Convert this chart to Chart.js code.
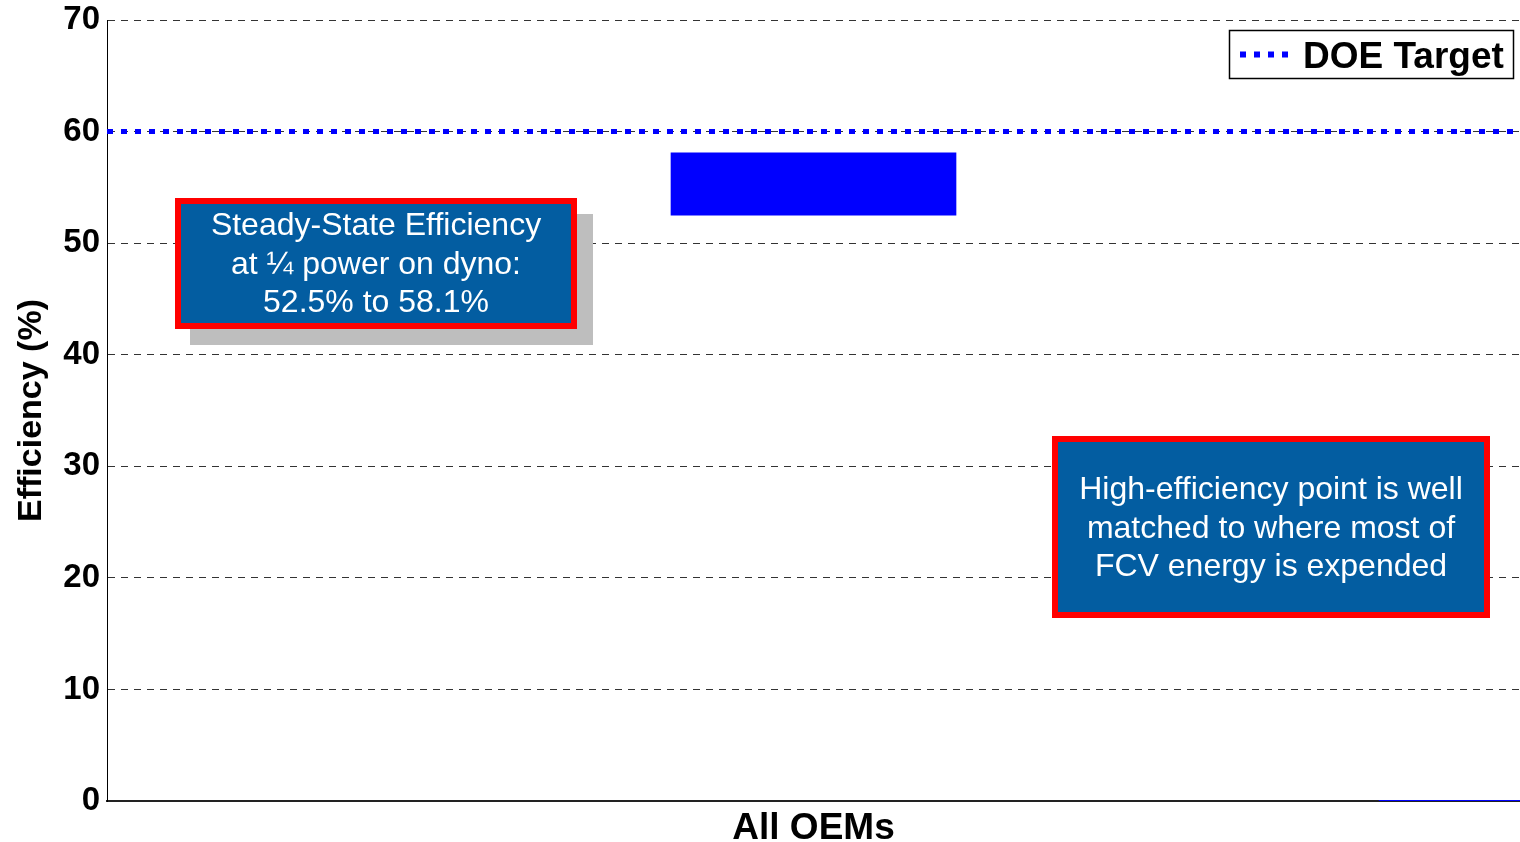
<!DOCTYPE html>
<html>
<head>
<meta charset="utf-8">
<title>Steady-State Efficiency</title>
<script src="https://cdn.jsdelivr.net/npm/chart.js@4/dist/chart.umd.min.js"></script>
<style>
  html, body { margin: 0; padding: 0; background: #ffffff; }
  #wrap { width: 1520px; height: 842px; position: relative; }
</style>
</head>
<body>
<div id="wrap"><canvas id="chart" width="1520" height="842"></canvas></div>
<script>
// ---- data ----
const categories = ['All OEMs'];
const categoryPos = [0.5];           // position of each group along the x axis (0..1)
const efficiencyRangeLow = [52.5];   // % at 1/4 power, lowest OEM
const efficiencyRangeHigh = [58.1];  // % at 1/4 power, highest OEM
const targetLabel = 'DOE Target';
const targetValue = [60, 60];        // % efficiency target
const targetSpan = [0, 1];
const baseValue = [0, 0];
const baseSpan = [0.9, 1];
const yTicks = [0, 10, 20, 30, 40, 50, 60, 70];
const yTitle = 'Efficiency (%)';
const noteLeft = ['Steady-State Efficiency', 'at \u00BC power on dyno:', '52.5% to 58.1%'];
const noteRight = ['High-efficiency point is well', 'matched to where most of', 'FCV energy is expended'];

const FONT = "'Liberation Sans', Arial, Helvetica, sans-serif";
const NOTE_BLUE = '#035DA1';
const NOTE_RED = '#FF0000';

// floating bars: y = [low, high]
const rangeData = categories.map((c, i) => ({ x: categoryPos[i], y: [efficiencyRangeLow[i], efficiencyRangeHigh[i]] }));
const targetData = targetSpan.map((x, i) => ({ x: x, y: targetValue[i] }));
const baseData = baseSpan.map((x, i) => ({ x: x, y: baseValue[i] }));

// boxed callouts and the framed legend, drawn over the plot
const overlayPlugin = {
  id: 'overlay',
  afterDatasetsDraw(chart) {
    const ctx = chart.ctx;
    const area = chart.chartArea;

    function note(lines, x0, y0, x1, y1, lineCenters, shadow) {
      ctx.save();
      if (shadow) {
        ctx.fillStyle = '#BEBEBE';
        ctx.fillRect(x0 + 15, y0 + 16, x1 - x0 + 1, y1 - y0);
      }
      ctx.fillStyle = NOTE_RED;
      ctx.fillRect(x0, y0, x1 - x0, y1 - y0);
      ctx.fillStyle = NOTE_BLUE;
      ctx.fillRect(x0 + 6, y0 + 6, x1 - x0 - 12, y1 - y0 - 12);
      ctx.fillStyle = '#FFFFFF';
      ctx.font = '32px ' + FONT;
      ctx.textAlign = 'center';
      ctx.textBaseline = 'middle';
      const cx = (x0 + x1) / 2;
      lines.forEach((t, i) => ctx.fillText(t, cx, lineCenters[i]));
      ctx.restore();
    }

    note(noteLeft, 175, 198, 577, 329, [226, 265, 303], true);
    note(noteRight, 1052, 436, 1490, 618, [490, 529, 567], false);

    // legend frame with the target line sample
    const ds = chart.data.datasets[1];
    const lx1 = area.right - 6, lx0 = lx1 - 285;
    const ly0 = area.top + 10, ly1 = ly0 + 49;
    ctx.save();
    ctx.fillStyle = '#FFFFFF';
    ctx.fillRect(lx0, ly0, lx1 - lx0, ly1 - ly0);
    ctx.strokeStyle = '#000000';
    ctx.lineWidth = 1.5;
    ctx.strokeRect(lx0 + 0.5, ly0 + 0.5, lx1 - lx0 - 1, ly1 - ly0 - 1);
    ctx.strokeStyle = ds.borderColor;
    ctx.lineWidth = ds.borderWidth + 1;
    ctx.setLineDash(ds.borderDash);
    ctx.beginPath();
    ctx.moveTo(lx0 + 11, (ly0 + ly1) / 2);
    ctx.lineTo(lx0 + 63, (ly0 + ly1) / 2);
    ctx.stroke();
    ctx.setLineDash([]);
    ctx.fillStyle = '#000000';
    ctx.font = 'bold 37px ' + FONT;
    ctx.textAlign = 'left';
    ctx.textBaseline = 'alphabetic';
    ctx.fillText(ds.label, lx0 + 74, ly0 + 38);
    ctx.restore();
  }
};

new Chart(document.getElementById('chart'), {
  type: 'bar',
  data: {
    datasets: [
      {
        label: 'Efficiency range',
        data: rangeData,
        backgroundColor: '#0000FF',
        borderWidth: 0,
        barThickness: 285,
        order: 2
      },
      {
        type: 'line',
        label: targetLabel,
        data: targetData,
        borderColor: '#0000FF',
        borderWidth: 5,
        borderDash: [6, 8],
        pointRadius: 0,
        fill: false,
        order: 1
      },
      {
        type: 'line',
        label: 'base',
        data: baseData,
        borderColor: '#0000FF',
        borderWidth: 2,
        pointRadius: 0,
        fill: false,
        order: 0
      }
    ]
  },
  options: {
    responsive: false,
    animation: false,
    devicePixelRatio: 1,
    layout: { padding: { top: 20, right: 0, left: 0, bottom: 0 } },
    plugins: {
      legend: { display: false },
      tooltip: { enabled: false },
      title: { display: false }
    },
    scales: {
      x: {
        type: 'linear',
        min: 0,
        max: 1,
        offset: false,
        afterBuildTicks(scale) { scale.ticks = categoryPos.map(v => ({ value: v })); },
        grid: { display: false, drawTicks: false, offset: false },
        border: { display: true, color: '#222222', width: 2 },
        ticks: {
          color: '#000000',
          padding: 6,
          maxRotation: 0,
          font: { family: FONT, size: 37, weight: 'bold' },
          callback(value) {
            const i = categoryPos.indexOf(value);
            return i >= 0 ? categories[i] : '';
          }
        },
        afterFit(scale) {
          scale.height = 41;
          scale.paddingLeft = 0;
          scale.paddingRight = 0;
        }
      },
      y: {
        type: 'linear',
        min: yTicks[0],
        max: yTicks[yTicks.length - 1],
        afterBuildTicks(scale) { scale.ticks = yTicks.map(v => ({ value: v })); },
        grid: { color: '#333333', lineWidth: 1, drawTicks: false },
        border: { display: true, color: '#000000', width: 1, dash: [7, 6] },
        ticks: {
          color: '#000000',
          padding: 7,
          font: { family: FONT, size: 33, weight: 'bold' }
        },
        title: {
          display: true,
          text: yTitle,
          color: '#000000',
          padding: { top: 11, bottom: 0 },
          font: { family: FONT, size: 34, weight: 'bold' }
        },
        afterFit(scale) {
          scale.width = 107;
          scale.paddingTop = 0;
          scale.paddingBottom = 0;
        }
      }
    }
  },
  plugins: [overlayPlugin]
});
</script>
</body>
</html>
